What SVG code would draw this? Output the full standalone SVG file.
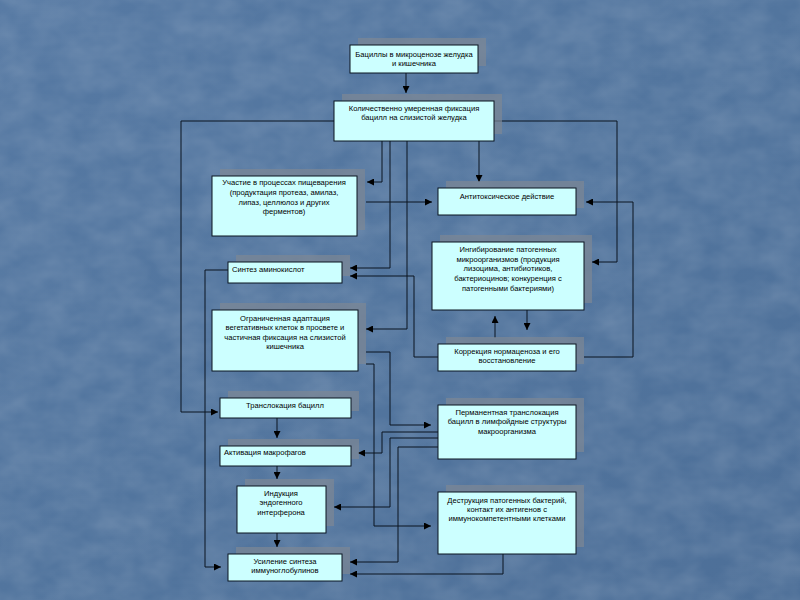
<svg xmlns="http://www.w3.org/2000/svg" width="800" height="600" viewBox="0 0 800 600">
<defs>
<linearGradient id="bg" x1="0" y1="0" x2="1" y2="1">
<stop offset="0" stop-color="#5679a3"/>
<stop offset="0.5" stop-color="#52759e"/>
<stop offset="1" stop-color="#4d6f98"/>
</linearGradient>
<marker id="ah" viewBox="0 0 10 10" refX="10" refY="5" markerWidth="7" markerHeight="7" markerUnits="userSpaceOnUse" orient="auto">
<path d="M0,0 L10,5 L0,10 z" fill="#000"/>
</marker>
<filter id="tex" x="0" y="0" width="100%" height="100%">
<feTurbulence type="fractalNoise" baseFrequency="0.03 0.045" numOctaves="3" seed="7" result="n"/>
<feColorMatrix in="n" type="matrix" values="0 0 0 0 1  0 0 0 0 1  0 0 0 0 1  0 0 0 0.18 -0.04"/>
</filter>
</defs>
<style>
.sh{fill:#7d8794;opacity:0.7}
.bx{fill:#ccffff;stroke:#0a1420;stroke-width:1}
.t{font-family:"Liberation Sans",Arial,sans-serif;font-size:7.6px;fill:#000;text-anchor:middle}
.tl{text-anchor:start}
.c{fill:none;stroke:#0a1420;stroke-width:1}
.a{marker-end:url(#ah)}
</style>
<rect width="800" height="600" fill="url(#bg)"/>
<rect width="800" height="600" filter="url(#tex)"/>

<g id="connectors">
<path class="c a" d="M406,73 V93"/>
<path class="c a" d="M334,121 H181 V412 H218"/>
<path class="c a" d="M494,121 H617 V262 H592"/>
<path class="c a" d="M382,141 V182 H367"/>
<path class="c a" d="M390,141 V268 H350"/>
<path class="c a" d="M407,141 V329 H366"/>
<path class="c a" d="M479,141 V182"/>
<path class="c a" d="M366,202 H432"/>
<path class="c a" d="M584,357 H633 V202 H586"/>
<path class="c a" d="M495,338 V316"/>
<path class="c a" d="M527,310 V330"/>
<path class="c a" d="M438,357 H414 V276 H350"/>
<path class="c a" d="M228,270 H205 V567 H221"/>
<path class="c a" d="M366,352 H390 V425 H431"/>
<path class="c a" d="M366,364 H374 V526 H431"/>
<path class="c a" d="M438,432 H382 V453 H358"/>
<path class="c a" d="M438,438 H390 V507 H334"/>
<path class="c a" d="M438,447 H398 V562 H350"/>
<path class="c a" d="M503,554 V574 H350"/>
<path class="c a" d="M277,418 V438"/>
<path class="c a" d="M277,466 V479"/>
<path class="c a" d="M277,533 V547"/>
</g>

<g id="n1">
<rect class="sh" x="358" y="38" width="128" height="28"/>
<rect class="bx" x="350" y="45" width="128" height="28"/>
<text class="t" x="414" y="57">Бациллы в микроценозе желудка</text>
<text class="t" x="414" y="66">и кишечника</text>
</g>
<g id="n2">
<rect class="sh" x="342" y="94" width="160" height="40"/>
<rect class="bx" x="334" y="101" width="160" height="40"/>
<text class="t" x="414" y="111">Количественно умеренная фиксация</text>
<text class="t" x="414" y="120">бацилл на слизистой желудка</text>
</g>
<g id="n3">
<rect class="sh" x="220" y="169" width="145" height="61"/>
<rect class="bx" x="212" y="176" width="145" height="60"/>
<text class="t" x="284" y="185">Участие в процессах  пищеварения</text>
<text class="t" x="284" y="195">(продуктация протеаз, амилаз,</text>
<text class="t" x="284" y="205">липаз, целлюлоз и других</text>
<text class="t" x="284" y="214">ферментов)</text>
</g>
<g id="n4">
<rect class="sh" x="446" y="181" width="138" height="27"/>
<rect class="bx" x="438" y="188" width="138" height="27"/>
<text class="t" x="507" y="199">Антитоксическое действие</text>
</g>
<g id="n5">
<rect class="sh" x="440" y="235" width="152" height="68"/>
<rect class="bx" x="432" y="242" width="152" height="68"/>
<text class="t" x="508" y="252">Ингибирование патогенных</text>
<text class="t" x="508" y="262">микроорганизмов  (продукция</text>
<text class="t" x="508" y="271">лизоцима, антибиотиков,</text>
<text class="t" x="508" y="281">бактериоцинов; конкуренция с</text>
<text class="t" x="508" y="291">патогенными бактериями)</text>
</g>
<g id="n6">
<rect class="sh" x="236" y="255" width="114" height="21"/>
<rect class="bx" x="228" y="262" width="114" height="21"/>
<text class="t tl" x="232" y="272">Синтез аминокислот</text>
</g>
<g id="n7">
<rect class="sh" x="220" y="303" width="146" height="61"/>
<rect class="bx" x="212" y="310" width="146" height="61"/>
<text class="t" x="285" y="321">Ограниченная адаптация</text>
<text class="t" x="285" y="330">вегетативных клеток в просвете и</text>
<text class="t" x="285" y="340">частичная фиксация на слизистой</text>
<text class="t" x="285" y="349">кишечника</text>
</g>
<g id="n8">
<rect class="sh" x="446" y="337" width="138" height="27"/>
<rect class="bx" x="438" y="344" width="138" height="27"/>
<text class="t" x="507" y="354">Коррекция нормаценоза и его</text>
<text class="t" x="507" y="363">восстановление</text>
</g>
<g id="n9">
<rect class="sh" x="446" y="398" width="138" height="54"/>
<rect class="bx" x="438" y="405" width="138" height="54"/>
<text class="t" x="507" y="415">Перманентная транслокация</text>
<text class="t" x="507" y="424">бацилл в лимфойдные  структуры</text>
<text class="t" x="507" y="434">макроорганизма</text>
</g>
<g id="n10">
<rect class="sh" x="228" y="391" width="131" height="20"/>
<rect class="bx" x="220" y="398" width="131" height="20"/>
<text class="t" x="285" y="408">Транслокация бацилл</text>
</g>
<g id="n11">
<rect class="sh" x="228" y="439" width="131" height="20"/>
<rect class="bx" x="220" y="446" width="131" height="20"/>
<text class="t tl" x="224" y="455">Активация макрофагов</text>
</g>
<g id="n12">
<rect class="sh" x="245" y="479" width="89" height="47"/>
<rect class="bx" x="237" y="486" width="89" height="47"/>
<text class="t" x="281" y="496">Индукция</text>
<text class="t" x="281" y="505">эндогенного</text>
<text class="t" x="281" y="515">интерферона</text>
</g>
<g id="n13">
<rect class="sh" x="236" y="547" width="114" height="27"/>
<rect class="bx" x="228" y="554" width="114" height="27"/>
<text class="t" x="285" y="564">Усиление синтеза</text>
<text class="t" x="285" y="573">иммуноглобулинов</text>
</g>
<g id="n14">
<rect class="sh" x="446" y="485" width="138" height="62"/>
<rect class="bx" x="438" y="492" width="138" height="62"/>
<text class="t" x="507" y="503">Деструкция патогенных бактерий,</text>
<text class="t" x="507" y="512">контакт их антигенов с</text>
<text class="t" x="507" y="521">иммунокомпетентными клетками</text>
</g>
</svg>
